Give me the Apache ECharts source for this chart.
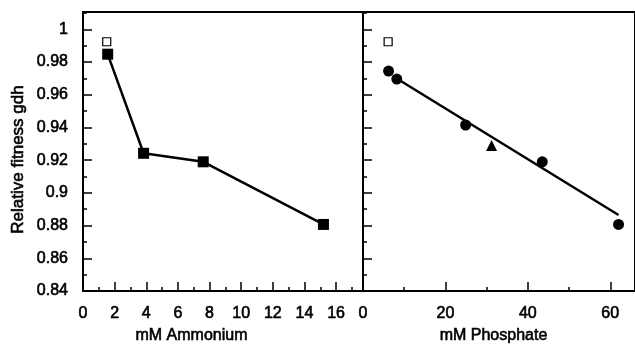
<!DOCTYPE html>
<html lang="en">
<head>
    <meta charset="UTF-8">
    <title>Relative fitness gdh</title>
</head>

<script src="https://cdn.jsdelivr.net/npm/echarts@6/dist/echarts.min.js"></script>

<body style="margin:0;background:#fff">
<div id="main" style="height: 352px;width: 635px"></div>
<script type="text/javascript">
    // left panel: ammonium
    var ammoniumX = [1.56, 3.83, 7.6, 15.2]
    var ammoniumFitness = [0.9848, 0.9242, 0.919, 0.8807]
    var ammoniumOpen = [[1.5, 0.9924]]

    // right panel: phosphate
    var phosphateX = [6.2, 8.2, 24.9, 43.5, 62]
    var phosphateFitness = [0.9745, 0.9696, 0.9415, 0.919, 0.8807]
    var phosphateTriangle = [[31.2, 0.929]]
    var phosphateOpen = [[6.1, 0.9924]]
    var phosphateFit = [[7.5, 0.971], [62, 0.8865]]

    var yTicks = [0.84, 0.86, 0.88, 0.9, 0.92, 0.94, 0.96, 0.98, 1]

    function pairs(xs, ys) {
        return xs.map(function (x, i) { return [x, ys[i]] })
    }

    var font = 'Liberation Sans, Arial, sans-serif'
    var black = '#000'
    // the scan makes the type look heavier, thicken it a bit
    var txt = {fontFamily: font, color: black, textBorderColor: black, textBorderWidth: 0.6}

    function yAxis(idx, labels) {
        return {
            type: 'value', gridIndex: idx,
            min: yTicks[0], max: 1.0106, interval: 0.02,
            axisLine: {show: true, lineStyle: {color: black, width: 2}},
            axisTick: {show: true, inside: true, length: 9, lineStyle: {color: black, width: 1.5}},
            minorTick: {show: true, splitNumber: 2, length: 4, lineStyle: {color: black, width: 1.5}},
            splitLine: {show: false},
            axisLabel: Object.assign({show: labels, showMaxLabel: false, margin: 15, fontSize: 16}, txt),
            name: labels ? 'Relative fitness gdh' : '',
            nameLocation: 'middle', nameGap: 56,
            nameTextStyle: Object.assign({fontSize: 17, padding: [0, 16, 0, 0]}, txt)
        }
    }

    function xAxis(idx, max, interval, name, pad) {
        return {
            type: 'value', gridIndex: idx,
            min: 0, max: max, interval: interval,
            axisLine: {show: true, onZero: false, lineStyle: {color: black, width: 2}},
            axisTick: {show: true, inside: true, length: 9, lineStyle: {color: black, width: 1.5}},
            minorTick: {show: true, splitNumber: 2, length: 4, lineStyle: {color: black, width: 1.5}},
            splitLine: {show: false},
            axisLabel: Object.assign({showMaxLabel: false, margin: 15, fontSize: 16}, txt),
            name: name, nameLocation: 'middle', nameGap: 36,
            nameTextStyle: Object.assign({fontSize: 16, padding: [0, pad, 0, 0]}, txt)
        }
    }

    var myChart = echarts.init(document.getElementById('main'))
    var option = {
        animation: false,
        grid: [
            {left: 83, top: 12, width: 280, height: 279, show: true, borderColor: black, borderWidth: 2},
            {left: 363, top: 12, width: 275, height: 279, show: true, borderColor: black, borderWidth: 2}
        ],
        xAxis: [
            xAxis(0, 17.7, 2, 'mM Ammonium', 63),
            xAxis(1, 66, 20, 'mM Phosphate', 11)
        ],
        yAxis: [yAxis(0, true), yAxis(1, false)],
        series: [
            {
                type: 'line', xAxisIndex: 0, yAxisIndex: 0,
                data: pairs(ammoniumX, ammoniumFitness),
                symbol: 'rect', symbolSize: 11,
                lineStyle: {color: black, width: 2.5},
                itemStyle: {color: black, opacity: 1}
            },
            {
                type: 'scatter', xAxisIndex: 0, yAxisIndex: 0,
                data: ammoniumOpen, symbol: 'rect', symbolSize: 8,
                itemStyle: {color: '#fff', borderColor: black, borderWidth: 1.2, opacity: 1}
            },
            {
                type: 'line', xAxisIndex: 1, yAxisIndex: 1,
                data: phosphateFit, showSymbol: false,
                lineStyle: {color: black, width: 2.5}
            },
            {
                type: 'scatter', xAxisIndex: 1, yAxisIndex: 1,
                data: pairs(phosphateX, phosphateFitness),
                symbol: 'circle', symbolSize: 11,
                itemStyle: {color: black, opacity: 1}
            },
            {
                type: 'scatter', xAxisIndex: 1, yAxisIndex: 1,
                data: phosphateTriangle, symbol: 'triangle', symbolSize: 11,
                itemStyle: {color: black, opacity: 1}
            },
            {
                type: 'scatter', xAxisIndex: 1, yAxisIndex: 1,
                data: phosphateOpen, symbol: 'rect', symbolSize: 8,
                itemStyle: {color: '#fff', borderColor: black, borderWidth: 1.2, opacity: 1}
            }
        ]
    }
    myChart.setOption(option)
</script>

</body>
</html>
